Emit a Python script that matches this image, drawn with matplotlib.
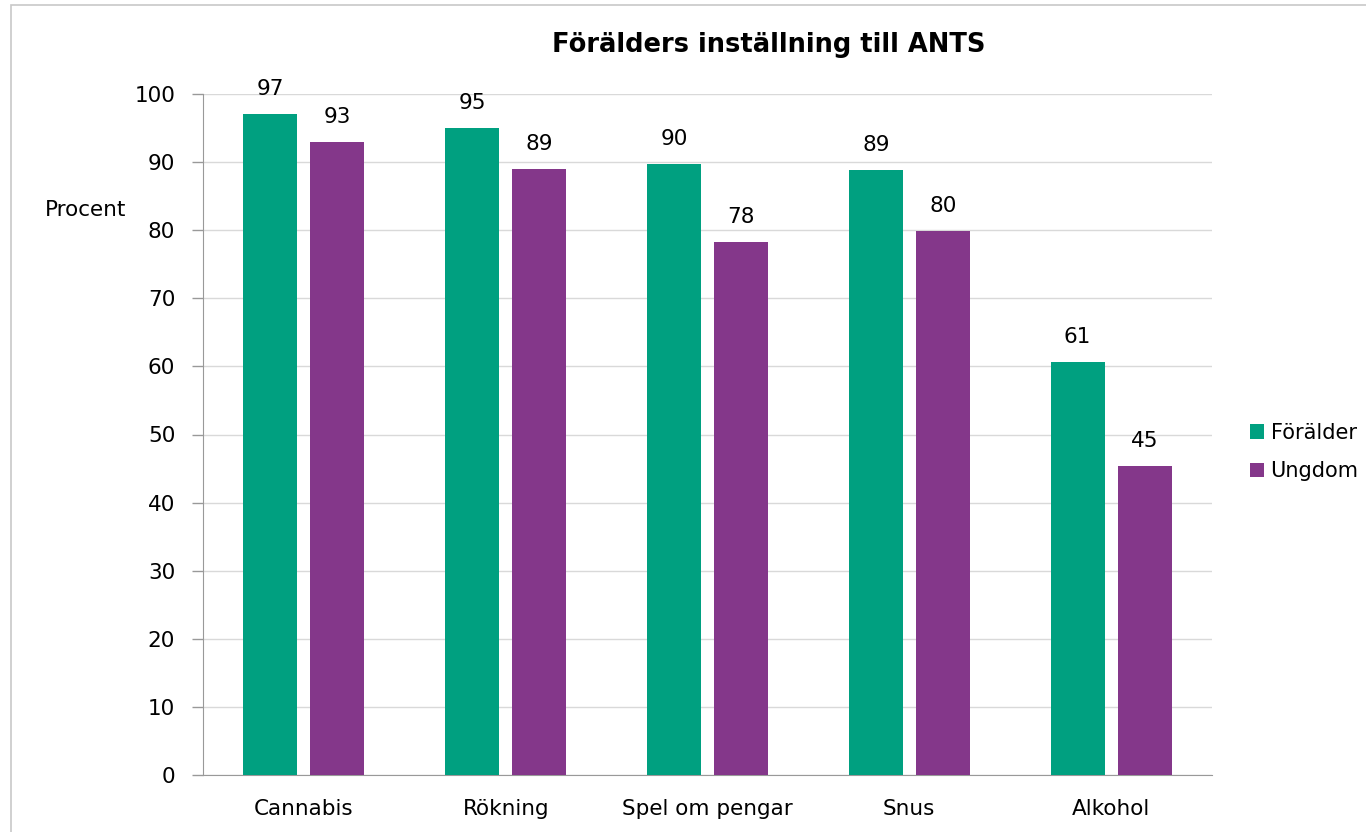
import numpy as np
import matplotlib.pyplot as plt
from matplotlib.patches import Rectangle

# data
categories = ["Cannabis", "Rökning", "Spel om pengar", "Snus", "Alkohol"]
foralder = [97.1, 95.0, 89.7, 88.8, 60.6]
ungdom = [93.0, 89.0, 78.3, 79.9, 45.4]
series_names = ["Förälder", "Ungdom"]

green = "#00A080"
purple = "#84378A"

plt.rcParams['font.family'] = ['DejaVu Sans']

fig = plt.figure(figsize=(13.66, 8.32), dpi=100)
ax = fig.add_axes([203/1366, 1 - 775/832, (1212 - 203)/1366, (775 - 94)/832])

# light frame round the whole chart
fig.patches.append(Rectangle((11/1366, -0.01), 1.1, 1 - 5/832 + 0.01,
                             transform=fig.transFigure, fill=False,
                             edgecolor="#c8c8c8", linewidth=1.2))

x = np.arange(len(categories))
w = 0.267
b1 = ax.bar(x - 0.166, foralder, w, color=green, label=series_names[0], zorder=3)
b2 = ax.bar(x + 0.166, ungdom, w, color=purple, label=series_names[1], zorder=3)

for bars, vals in [(b1, foralder), (b2, ungdom)]:
    for r, v in zip(bars, vals):
        ax.text(r.get_x() + r.get_width()/2, v + 2.2, "%.0f" % v,
                ha="center", va="bottom", fontsize=15.5)

ax.set_xlim(-0.5, len(categories) - 0.5)
ax.set_ylim(0, 100)
ax.set_yticks(range(0, 101, 10))
ax.set_xticks(x)
ax.set_xticklabels(categories)
ax.tick_params(axis="x", length=0, pad=17, labelsize=15.5)
ax.tick_params(axis="y", length=8, width=1, color="#999999", pad=12, labelsize=15.5)
ax.grid(axis="y", color="#d9d9d9", linewidth=1, zorder=0)
for s in ["top", "right"]:
    ax.spines[s].set_visible(False)
ax.spines["left"].set_color("#999999")
ax.spines["bottom"].set_color("#999999")

fig.text(86/1366, 1 - 210/832, "Procent", ha="center", va="center", fontsize=15.5)
fig.text(769/1366, 1 - 45/832, "Förälders inställning till ANTS",
         ha="center", va="center", fontsize=18.5, fontweight="bold")

ax.legend(loc="center left", bbox_to_anchor=(1231/1366, 1 - 452/832),
          bbox_transform=fig.transFigure, frameon=False, fontsize=15,
          handlelength=0.7, handleheight=0.7, handletextpad=0.3, labelspacing=0.9)

plt.savefig("out.png", dpi=100)
